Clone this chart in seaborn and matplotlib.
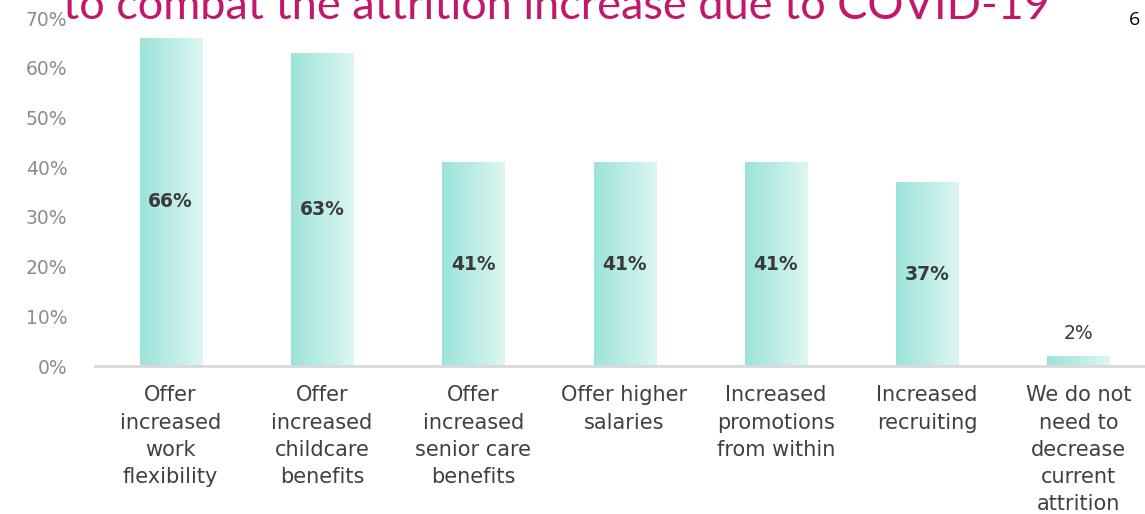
import numpy as np
import pandas as pd
import matplotlib
matplotlib.use("Agg")
import matplotlib.pyplot as plt
import seaborn as sns
from matplotlib.colors import LinearSegmentedColormap

categories = [
    "Offer\nincreased\nwork\nflexibility",
    "Offer\nincreased\nchildcare\nbenefits",
    "Offer\nincreased\nsenior care\nbenefits",
    "Offer higher\nsalaries",
    "Increased\npromotions\nfrom within",
    "Increased\nrecruiting",
    "We do not\nneed to\ndecrease\ncurrent\nattrition",
]
values = [66, 63, 41, 41, 41, 37, 2]
yticks = [0, 10, 20, 30, 40, 50, 60, 70]
title = "to combat the attrition increase due to COVID-19"
page_number = "6"

df = pd.DataFrame({"category": categories, "value": values})

sns.set_theme(style="white")
plt.rcParams["font.family"] = ["DejaVu Sans"]

fig = plt.figure(figsize=(11.45, 5.14), dpi=100)
ax = fig.add_axes([95 / 1145, 1 - 366 / 514, 1 - 95 / 1145, (366 - 18) / 514])

sns.barplot(data=df, x="category", y="value", ax=ax, color="#a8e6df",
            width=0.41, saturation=1)

# gradient fill clipped to each bar
grad = np.linspace(0, 1, 256).reshape(1, -1)
cmap = LinearSegmentedColormap.from_list("tealgrad", ["#9be3d9", "#ddf6f3"])
for patch in ax.patches:
    x0, y0 = patch.get_x(), patch.get_y()
    w, h = patch.get_width(), patch.get_height()
    patch.set_facecolor("none")
    patch.set_edgecolor("none")
    im = ax.imshow(grad, cmap=cmap, aspect="auto",
                   extent=[x0, x0 + w, y0, y0 + h], zorder=2)
    im.set_clip_path(patch)

ax.set_xlim(-0.5, 6.44)
ax.set_ylim(0, 70)
ax.set_yticks(yticks)
ax.set_yticklabels([f"{t}%" for t in yticks], color="#8c8c8c", fontsize=13.5)
ax.tick_params(axis="y", length=0, pad=20)
ax.tick_params(axis="x", length=0, pad=14, labelsize=15, labelcolor="#404040")
for lab in ax.get_xticklabels():
    lab.set_linespacing(1.45)
    lab.set_va("top")
ax.set_xlabel("")
ax.set_ylabel("")
for s in ["top", "right", "left"]:
    ax.spines[s].set_visible(False)
ax.spines["bottom"].set_color("#d9d9d9")
ax.spines["bottom"].set_linewidth(2)

for i, v in enumerate(values):
    if v >= 10:
        ax.text(i, v / 2, f"{v}%", ha="center", va="center",
                fontsize=13.5, color="#3a3a3a", fontweight="semibold", zorder=5)
    else:
        ax.text(i, v + 4.6, f"{v}%", ha="center", va="center",
                fontsize=13.5, color="#3a3a3a", zorder=5)

fig.text(557 / 1145, 1 - 19 / 514, title, ha="center", va="baseline",
         fontsize=32.5, color="#c2186b", fontfamily=["Lato", "DejaVu Sans"])
fig.text(1134 / 1145, 1 - 20 / 514, page_number, ha="center", va="center",
         fontsize=14, color="#000000", fontfamily=["Open Sans", "DejaVu Sans"])

fig.savefig("out.png", dpi=100)
